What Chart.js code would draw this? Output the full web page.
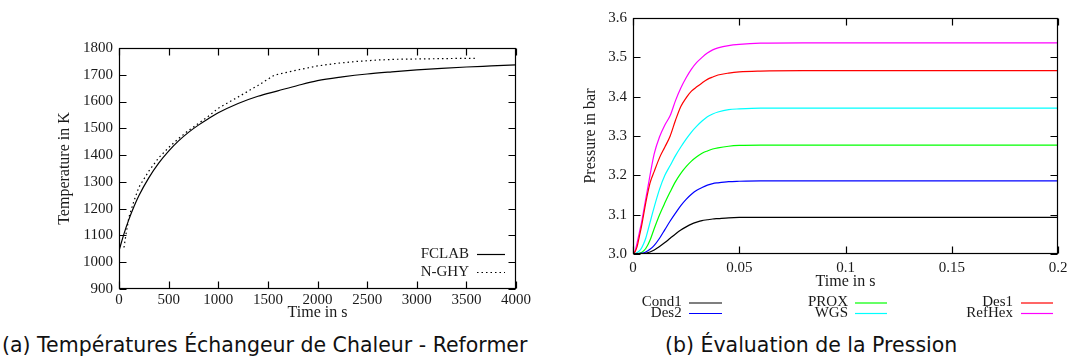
<!DOCTYPE html>
<html>
<head>
<meta charset="utf-8">
<script src="https://cdn.jsdelivr.net/npm/chart.js@4.4.0/dist/chart.umd.min.js"></script>
<style>
  body { margin: 0; width: 1073px; height: 362px; background: #fff; position: relative; overflow: hidden; }
  canvas { position: absolute; top: 0; }
  #tempChart { left: 0; }
  #pressChart { left: 540px; }
  .caption { position: absolute; top: 333px; line-height: 24px; font-family: "DejaVu Sans", sans-serif; font-size: 20.5px; color: #111; white-space: nowrap; }
</style>
</head>
<body>
<canvas id="tempChart" width="540" height="325"></canvas>
<canvas id="pressChart" width="533" height="325"></canvas>
<div class="caption" id="capA" style="left:2px">(a) Températures Échangeur de Chaleur - Reformer</div>
<div class="caption" id="capB" style="left:665px">(b) Évaluation de la Pression</div>
<script>
// (a) temperatures
const fclabTime = [0, 50, 100, 150, 200, 300, 400, 500, 600, 700, 800, 900, 1000, 1200, 1400, 1600, 1800, 2000, 2250, 2500, 2750, 3000, 3250, 3500, 3750, 4000];
const fclabTemp = [1043, 1106, 1160, 1207, 1248, 1315, 1370, 1415, 1453, 1485, 1512, 1536, 1558, 1593, 1620, 1640, 1660, 1678, 1692, 1703, 1711, 1718, 1724, 1729, 1733, 1737];
const nghyTime = [50, 75, 100, 150, 200, 300, 400, 500, 600, 700, 800, 900, 1000, 1200, 1400, 1566, 1800, 2000, 2200, 2400, 2600, 2800, 3000, 3200, 3400, 3585];
const nghyTemp = [1055, 1115, 1168, 1228, 1280, 1340, 1390, 1428, 1462, 1492, 1518, 1545, 1575, 1617, 1660, 1699, 1718, 1733, 1743, 1750, 1755, 1758, 1759, 1760, 1761, 1761];
const tempTicks = { xMin: 0, xMax: 4000, xStep: 500, yMin: 900, yMax: 1800, yStep: 100 };

// (b) pressures
const pressTime = [0, 0.001, 0.002, 0.003, 0.004, 0.005, 0.006, 0.008, 0.010, 0.0125, 0.015, 0.0175, 0.020, 0.0225, 0.025, 0.0275, 0.030, 0.0325, 0.035, 0.0375, 0.040, 0.045, 0.050, 0.060, 0.080, 0.100, 0.150, 0.200];
const cond1 = [3.000, 3.000, 3.000, 3.000, 3.001, 3.001, 3.002, 3.005, 3.010, 3.019, 3.029, 3.040, 3.051, 3.061, 3.069, 3.076, 3.081, 3.085, 3.087, 3.089, 3.090, 3.092, 3.093, 3.093, 3.093, 3.093, 3.093, 3.093];
const des2 = [3.000, 3.000, 3.000, 3.001, 3.002, 3.003, 3.005, 3.012, 3.022, 3.040, 3.062, 3.084, 3.104, 3.123, 3.139, 3.152, 3.162, 3.169, 3.175, 3.179, 3.181, 3.184, 3.185, 3.186, 3.186, 3.186, 3.186, 3.186];
const prox = [3.000, 3.000, 3.001, 3.002, 3.004, 3.008, 3.014, 3.035, 3.065, 3.100, 3.130, 3.158, 3.184, 3.205, 3.222, 3.236, 3.247, 3.256, 3.262, 3.267, 3.270, 3.274, 3.276, 3.277, 3.277, 3.277, 3.277, 3.277];
const wgs = [3.000, 3.001, 3.004, 3.008, 3.015, 3.026, 3.040, 3.080, 3.120, 3.165, 3.200, 3.225, 3.250, 3.272, 3.292, 3.310, 3.325, 3.338, 3.349, 3.356, 3.361, 3.367, 3.369, 3.371, 3.371, 3.371, 3.371, 3.371];
const des1 = [3.000, 3.006, 3.020, 3.045, 3.070, 3.100, 3.130, 3.180, 3.210, 3.245, 3.272, 3.300, 3.340, 3.375, 3.397, 3.414, 3.425, 3.435, 3.444, 3.450, 3.455, 3.460, 3.463, 3.465, 3.466, 3.466, 3.466, 3.466];
const refHex = [3.000, 3.008, 3.030, 3.055, 3.080, 3.110, 3.140, 3.200, 3.255, 3.298, 3.328, 3.352, 3.390, 3.422, 3.448, 3.470, 3.487, 3.500, 3.511, 3.519, 3.524, 3.530, 3.533, 3.536, 3.537, 3.537, 3.537, 3.537];
const pressTicks = { xMin: 0, xMax: 0.2, xStep: 0.05, yMin: 3.0, yMax: 3.6, yStep: 0.1 };

const serif = '"Liberation Serif", "Times New Roman", serif';
const textColor = '#1a1a1a';

const toXY = (xs, ys) => xs.map((x, i) => ({ x: x, y: ys[i] }));

// gnuplot-like box with inward ticks on all four sides, plus a hand placed key
const gnuplotFrame = {
  id: 'gnuplotFrame',
  afterDatasetsDraw(chart, args, opts) {
    const { ctx, chartArea: a, scales } = chart;
    const L = Math.round(a.left) + 0.5, R = Math.round(a.right) - 0.5;
    const T = Math.round(a.top) + 0.5, B = Math.round(a.bottom) - 0.5;
    const len = 7;
    ctx.save();
    ctx.strokeStyle = '#000';
    ctx.lineWidth = 1.2;
    ctx.beginPath();
    scales.x.ticks.forEach(t => {
      const px = Math.round(scales.x.getPixelForValue(t.value)) + 0.5;
      ctx.moveTo(px, B); ctx.lineTo(px, B - len);
      ctx.moveTo(px, T); ctx.lineTo(px, T + len);
    });
    scales.y.ticks.forEach(t => {
      const py = Math.round(scales.y.getPixelForValue(t.value)) + 0.5;
      ctx.moveTo(L, py); ctx.lineTo(L + len, py);
      ctx.moveTo(R, py); ctx.lineTo(R - len, py);
    });
    ctx.stroke();
    ctx.strokeRect(L, T, R - L, B - T);

    // key
    ctx.font = '15px ' + serif;
    ctx.textAlign = 'right';
    ctx.textBaseline = 'middle';
    chart.data.datasets.forEach((ds, i) => {
      const k = opts.key[i];
      ctx.fillStyle = textColor;
      ctx.fillText(ds.label, k.tx, k.y);
      ctx.strokeStyle = ds.borderColor;
      ctx.lineWidth = 1.2;
      ctx.setLineDash(ds.borderDash || []);
      ctx.beginPath();
      ctx.moveTo(k.x0, k.y + 0.5);
      ctx.lineTo(k.x1, k.y + 0.5);
      ctx.stroke();
      ctx.setLineDash([]);
    });
    ctx.restore();
  }
};

const tickFont = { family: serif, size: 15 };
const titleFont = { family: serif, size: 16 };

new Chart(document.getElementById('tempChart'), {
  type: 'line',
  data: {
    datasets: [{
      label: 'FCLAB',
      data: toXY(fclabTime, fclabTemp),
      borderColor: '#000',
      borderWidth: 1.2,
      pointRadius: 0,
      cubicInterpolationMode: 'monotone'
    }, {
      label: 'N-GHY',
      data: toXY(nghyTime, nghyTemp),
      borderColor: '#000',
      borderWidth: 1.2,
      borderDash: [1.5, 3],
      pointRadius: 0,
      tension: 0
    }]
  },
  options: {
    responsive: false,
    animation: false,
    devicePixelRatio: 1,
    layout: { padding: { left: 0, top: 48, right: 24, bottom: 0 } },
    plugins: {
      legend: { display: false },
      tooltip: { enabled: false },
      gnuplotFrame: {
        key: [
          { tx: 469, x0: 477, x1: 505, y: 254 },
          { tx: 469, x0: 477, x1: 505, y: 272 }
        ]
      }
    },
    scales: {
      x: {
        type: 'linear',
        min: tempTicks.xMin, max: tempTicks.xMax,
        ticks: { stepSize: tempTicks.xStep, font: tickFont, color: textColor, padding: 2, maxRotation: 0, autoSkip: false, callback: v => String(v) },
        grid: { display: false, drawTicks: false },
        border: { display: false },
        title: { display: true, text: 'Time in s', font: titleFont, color: textColor, padding: { top: 0, bottom: 2.4 } },
        afterFit(s) { s.height = 36; }
      },
      y: {
        min: tempTicks.yMin, max: tempTicks.yMax,
        ticks: { stepSize: tempTicks.yStep, font: tickFont, color: textColor, padding: 6, callback: v => String(v) },
        grid: { display: false, drawTicks: false },
        border: { display: false },
        title: { display: true, text: 'Temperature in K', font: titleFont, color: textColor, padding: { top: 55.4, bottom: 0 } },
        afterFit(s) { s.width = 119; }
      }
    }
  },
  plugins: [gnuplotFrame]
});

const pressSeries = [
  ['Cond1', cond1, '#000000'],
  ['Des2', des2, '#0000ff'],
  ['PROX', prox, '#00ff00'],
  ['WGS', wgs, '#00ffff'],
  ['Des1', des1, '#ff0000'],
  ['RefHex', refHex, '#ff00ff']
];

const keyCols = [{ tx: 141.7, x0: 149, x1: 182 }, { tx: 308, x0: 315, x1: 347 }, { tx: 473, x0: 481, x1: 513 }];
const keyRows = [302.5, 313];

new Chart(document.getElementById('pressChart'), {
  type: 'line',
  data: {
    datasets: pressSeries.map(([label, vals, color]) => ({
      label: label,
      data: toXY(pressTime, vals),
      borderColor: color,
      borderWidth: 1.2,
      pointRadius: 0,
      cubicInterpolationMode: 'monotone'
    }))
  },
  options: {
    responsive: false,
    animation: false,
    devicePixelRatio: 1,
    layout: { padding: { left: 0, top: 18, right: 15, bottom: 0 } },
    plugins: {
      legend: { display: false },
      tooltip: { enabled: false },
      gnuplotFrame: {
        key: pressSeries.map((s, i) => {
          const c = keyCols[Math.floor(i / 2)];
          return { tx: c.tx, x0: c.x0, x1: c.x1, y: keyRows[i % 2] };
        })
      }
    },
    scales: {
      x: {
        type: 'linear',
        min: pressTicks.xMin, max: pressTicks.xMax,
        ticks: {
          stepSize: pressTicks.xStep, font: tickFont, color: textColor, padding: 5, maxRotation: 0, autoSkip: false,
          callback: v => String(parseFloat(v.toFixed(2)))
        },
        grid: { display: false, drawTicks: false },
        border: { display: false },
        title: { display: true, text: 'Time in s', font: titleFont, color: textColor, padding: { top: 0, bottom: 33.4 } },
        afterFit(s) { s.height = 71; }
      },
      y: {
        min: pressTicks.yMin, max: pressTicks.yMax,
        ticks: { stepSize: pressTicks.yStep, font: tickFont, color: textColor, padding: 6, callback: v => v.toFixed(1) },
        grid: { display: false, drawTicks: false },
        border: { display: false },
        title: { display: true, text: 'Pressure in bar', font: titleFont, color: textColor, padding: { top: 41.4, bottom: 0 } },
        afterFit(s) { s.width = 93; }
      }
    }
  },
  plugins: [gnuplotFrame]
});
</script>
</body>
</html>
